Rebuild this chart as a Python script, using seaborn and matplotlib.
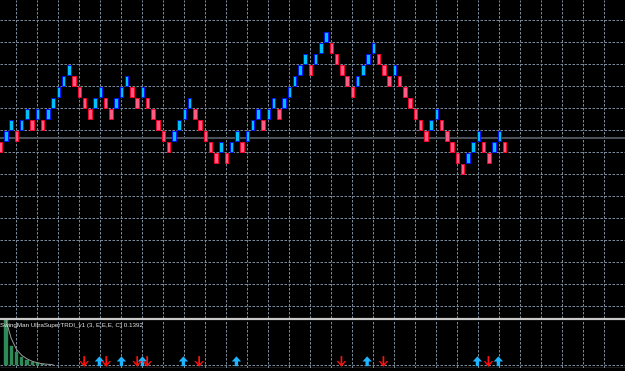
import numpy as np
import pandas as pd
import matplotlib
matplotlib.use("Agg")
import matplotlib.pyplot as plt
import seaborn as sns
from matplotlib.path import Path
from matplotlib.lines import Line2D

# ---------------- data ----------------
# renko brick bottoms (in brick units) and direction (U = up/blue, D = down/red)
levels = [0, 1, 2, 1, 2, 3, 2, 3, 2, 3,
          4, 5, 6, 7, 6, 5, 4, 3, 4, 5,
          4, 3, 4, 5, 6, 5, 4, 5, 4, 3,
          2, 1, 0, 1, 2, 3, 4, 3, 2, 1,
          0, -1, 0, -1, 0, 1, 0, 1, 2, 3,
          2, 3, 4, 3, 4, 5, 6, 7, 8, 7,
          8, 9, 10, 9, 8, 7, 6, 5, 6, 7,
          8, 9, 8, 7, 6, 7, 6, 5, 4, 3,
          2, 1, 2, 3, 2, 1, 0, -1, -2, -1,
          0, 1, 0, -1, 0, 1, 0]
directions = list("DUUDUUDUDU" "UUUUDDDDUU" "DDUUUDDUDD" "DDDUUUUDDD"
                  "DDUDUUDUUU" "DUUDUUUUUD" "UUUDDDDDUU" "UUDDDUDDDD"
                  "DDUUDDDDDU" "UUDDUUD")
current_price = 1.27

# indicator sub-window
hist_idx = [1, 2, 3, 4, 5, 6, 7, 8]
hist_val = [45, 19, 13, 8, 5, 3, 2, 1]
ma_idx = [1, 2, 3, 4, 5, 6, 7, 8, 9, 10]
ma_val = [45, 27, 16, 10, 6.5, 4, 2.5, 1.5, 1, 0.5]
down_arrows = [15.9, 20.1, 26.0, 27.9, 37.8, 64.9, 72.9, 92.9]
up_arrows = [18.8, 23.0, 27.0, 34.8, 44.9, 69.8, 90.8, 94.8]
indicator_label = "SwingMan UltraSuperTRDI_v1 (3, E,E,E, C) 0.1392"

# ---------------- style ----------------
sns.set_theme(style="dark", rc={"axes.facecolor": "black", "figure.facecolor": "black"})
plt.rcParams['font.family'] = ['Liberation Sans', 'DejaVu Sans']

W, H = 625, 371
fig = plt.figure(figsize=(W / 100, H / 100), dpi=100)
fig.patch.set_facecolor("black")

def fy(py):
    return 1 - py / H

main_top, main_bot = 0, 317.5
sub_top, sub_bot = 319.5, 368
ax = fig.add_axes([0, fy(main_bot), 1, (main_bot - main_top) / H])
sax = fig.add_axes([0, fy(sub_bot), 1, (sub_bot - sub_top) / H])

grid_col = "#778899"
glw = 0.72
dash = (0, (2.5, 1.5))

x_px0, x_step = 0.7, 5.25
xlim = ((0 - x_px0) / x_step, (W - x_px0) / x_step)
y0_px, y_step = 152.3, 11.0
ylim = ((y0_px - main_bot) / y_step, (y0_px - main_top) / y_step)

for a in (ax, sax):
    a.set_facecolor("black")
    a.set_xlim(*xlim)
    a.set_xticks([]); a.set_yticks([])
    for s in a.spines.values():
        s.set_visible(False)

grid_x = np.arange(2.857, xlim[1], 4)
for g in grid_x:
    ax.axvline(g, color=grid_col, lw=glw, ls=dash, zorder=0)
    sax.axvline(g, color=grid_col, lw=glw, ls=dash, zorder=0)
for g in range(-14, 13, 2):
    ax.axhline(g, color=grid_col, lw=glw, ls=dash, zorder=0)
ax.set_ylim(*ylim)

# current price line
ax.axhline(current_price, color="#4c535c", lw=1.4, zorder=1)

# renko bricks
df = pd.DataFrame({"i": np.arange(len(levels)), "level": levels, "dir": directions})
fills = {"U": "#00bfff", "D": "#ff5c84"}
edges = {"U": "#0010ff", "D": "#ff0028"}
for d in ("U", "D"):
    sub = df[df["dir"] == d]
    ax.bar(sub["i"], 0.94, bottom=sub["level"] + 0.03, width=0.66,
           color=fills[d], edgecolor=edges[d], linewidth=0.65, zorder=3)

# ---------------- sub window ----------------
base_px = 365.3
sax.set_ylim(base_px - sub_bot, base_px - sub_top)
sax.axhline(0, color=grid_col, lw=glw, ls=dash, zorder=0)
sax.axhline(base_px - sub_bot + 0.5, color="#8a8a8a", lw=1.0, zorder=1)

sax.bar(hist_idx, hist_val, width=0.6, color="#2e8b57", edgecolor="#2e8b57", lw=0.3, zorder=2)
sns.lineplot(x=ma_idx, y=ma_val, ax=sax, color="#9a9a9a", lw=0.7, zorder=3)

up_path = Path([(-0.5, 0.0), (0.0, 0.55), (0.5, 0.0), (0.18, 0.0), (0.18, -0.5),
                (-0.18, -0.5), (-0.18, 0.0), (-0.5, 0.0)], closed=False)
down_path = Path([(-0.45, 0.05), (0.0, -0.5), (0.45, 0.05), (0.3, 0.05), (0.08, -0.2),
                  (0.08, 0.5), (-0.08, 0.5), (-0.08, -0.2), (-0.3, 0.05), (-0.45, 0.05)], closed=False)
sax.scatter(up_arrows, [3.8] * len(up_arrows), marker=up_path, s=55, color="#1eb4ff",
            edgecolors="none", zorder=4)
sax.scatter(down_arrows, [3.8] * len(down_arrows), marker=down_path, s=60, color="#ff1010",
            edgecolors="none", zorder=4)

fig.text(0.5 / W, fy(325), indicator_label, color="#e8e8e8", fontsize=4.5,
         ha="left", va="center")

# separator between windows
fig.add_artist(Line2D([0, 1], [fy(318.5), fy(318.5)], color="#c8c8c8", lw=1.6))

fig.savefig("out.png", dpi=100, facecolor="black")
